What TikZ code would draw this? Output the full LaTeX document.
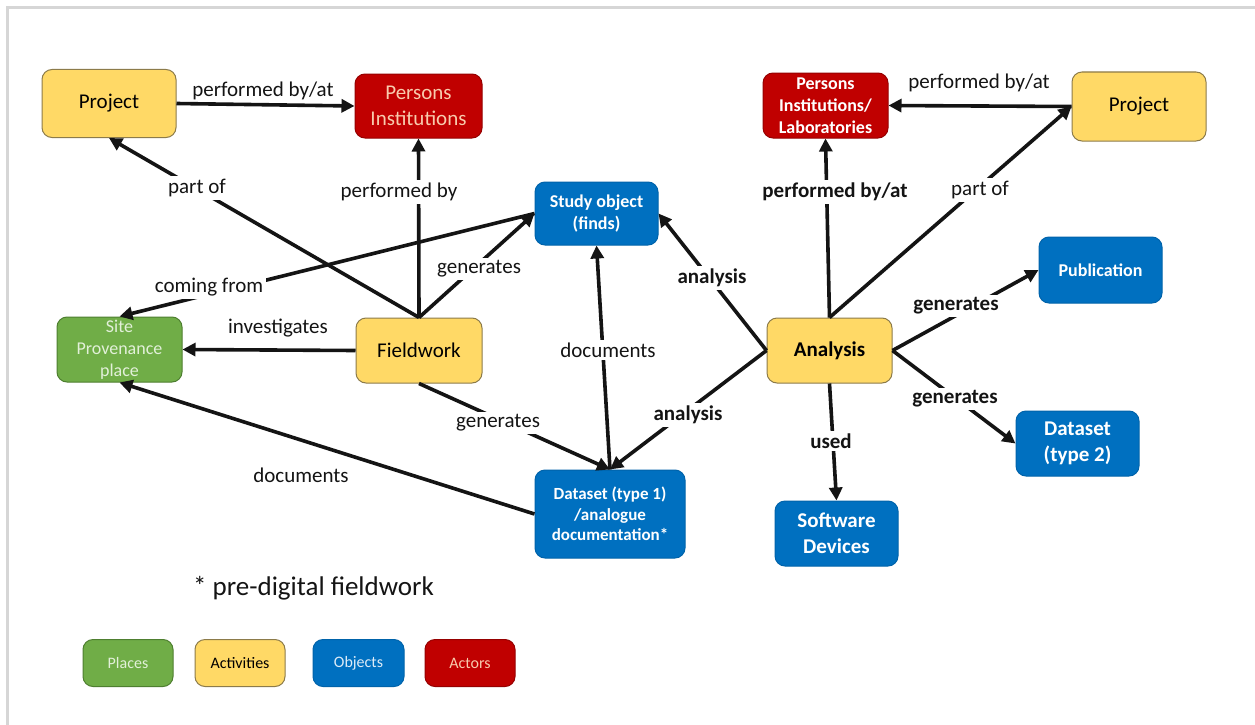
\documentclass[tikz,border=0pt]{standalone}
\usepackage{fontspec}
\setmainfont{Carlito}
\usetikzlibrary{arrows.meta}
\definecolor{yel}{HTML}{FFD966}
\definecolor{yelb}{HTML}{8C7B4A}
\definecolor{redf}{HTML}{C00000}
\definecolor{redb}{HTML}{960000}
\definecolor{redt}{HTML}{F8CBAD}
\definecolor{grnf}{HTML}{70AD47}
\definecolor{grnb}{HTML}{4E7F30}
\definecolor{grnt}{HTML}{E2F0D9}
\definecolor{bluf}{HTML}{0070C0}
\definecolor{blub}{HTML}{0063AA}
\definecolor{blut}{HTML}{DDEBF7}
\definecolor{framec}{HTML}{D6D6D6}
\definecolor{ink}{HTML}{141414}
\newcommand\fbig{\fontsize{21}{26}\selectfont}
\newcommand\fsmall{\fontsize{18}{22}\selectfont}
\newcommand\fleg{\fontsize{16}{19}\selectfont}
\tikzset{
 box/.style={rounded corners=10pt, draw, line width=1pt, align=center, inner sep=0pt},
 act/.style={box, fill=yel, draw=yelb, text=black},
 actor/.style={box, fill=redf, draw=redb},
 place/.style={box, fill=grnf, draw=grnb, text=grnt},
 obj/.style={box, fill=bluf, draw=blub, text=white},
 arr/.style={line width=3.6pt, draw=ink, -{Triangle[length=13pt,width=13pt]}},
 ln/.style={line width=3.6pt, draw=ink},
 lab/.style={fill=white, inner sep=3pt, font=\fbig, text=ink},
 tlab/.style={inner sep=1pt, font=\fbig, text=ink},
 blab/.style={fill=white, inner sep=3pt, font=\fbig\bfseries, text=ink},
}
\begin{document}
\begin{tikzpicture}[x=1pt,y=-1pt]
\useasboundingbox (0,0) rectangle (1255,725);
\fill[white] (0,0) rectangle (1255,725);
\draw[framec, line width=3pt] (7.5,725) -- (7.5,7.5) -- (1255,7.5);

% nodes
\node[act, minimum width=134pt, minimum height=68pt, font=\fbig] (projL) at (109,103.5) {Project};
\node[actor, minimum width=127pt, minimum height=64pt, font=\fbig, text=redt] (persL) at (418.5,106) {Persons\\Institutions};
\node[obj, minimum width=123pt, minimum height=63pt, font=\fsmall\bfseries] (study) at (596.5,213.5) {Study object\\(finds)};
\node[place, minimum width=125pt, minimum height=65pt, font=\fsmall] (site) at (119.5,349.5) {Site\\Provenance\\place};
\node[act, minimum width=126pt, minimum height=65pt, font=\fbig] (field) at (419,350.5) {Fieldwork};
\node[obj, minimum width=150pt, minimum height=88pt, font=\fontsize{17}{20.5}\selectfont\bfseries] (data1) at (610,514) {Dataset (type 1)\\/analogue\\documentation*};
\node[actor, minimum width=125pt, minimum height=65pt, font=\fsmall\bfseries, text=white] (persR) at (825.5,105.5) {Persons\\Institutions/\\Laboratories};
\node[act, minimum width=134pt, minimum height=69pt, font=\fbig] (projR) at (1139,106.5) {Project};
\node[obj, minimum width=123pt, minimum height=66pt, font=\fsmall\bfseries] (pub) at (1100.5,270) {Publication};
\node[act, minimum width=125pt, minimum height=65pt, font=\fbig\bfseries] (anal) at (829.5,350.5) {Analysis};
\node[obj, minimum width=123pt, minimum height=65pt, font=\fbig\bfseries] (data2) at (1077.5,443.5) {Dataset\\(type 2)};
\node[obj, minimum width=123pt, minimum height=65pt, font=\fbig\bfseries] (soft) at (836.5,533.5) {Software\\Devices};

% connectors
\draw[arr] (projL.east) -- (persL.west);
\draw[arr] (field.north) -- (projL.south);
\draw[arr] (field.north) -- (persL.south);
\draw[arr] (study.west) -- (site.north);
\draw[arr] (field.north) -- (study.west);
\draw[arr] (field.west) -- (site.east);
\draw[arr] (field.south) -- (data1.north);
\draw[arr] (data1.west) -- (site.south);
\draw[arr] (data1.north) -- (study.south);
\draw[arr] (anal.west) -- (study.east);
\draw[arr] (anal.west) -- (data1.north);
\draw[arr] (anal.north) -- (persR.south);
\draw[arr] (anal.north) -- (projR.west);
\draw[arr] (projR.west) -- (persR.east);
\draw[arr] (anal.east) -- (pub.west);
\draw[arr] (anal.east) -- (data2.west);
\draw[arr] (anal.south) -- (soft.north);

% labels
\node[tlab] (l1) at (263,91) {performed by/at};
\node[lab] (l2) at (197,188) {part of};
\node[lab] (l3) at (399,192) {performed by};
\node[lab] (l4) at (209,287) {coming from};
\node[lab] (l5) at (479,269) {generates};
\node[tlab] (l6) at (278,328) {investigates};
\node[lab] (l7) at (498,423) {generates};
\node[tlab] (l8) at (301,475) {documents};
\node[lab] (l9) at (608,350) {documents};
\node[blab] (l10) at (712,278) {analysis};
\node[blab] (l11) at (688,415) {analysis};
\node[blab] (l12) at (835,192) {performed by/at};
\node[lab] (l13) at (980,190) {part of};
\node[tlab] (l14) at (979,83) {performed by/at};
\node[blab] (l15) at (956,306) {generates};
\node[blab] (l16) at (955,399) {generates};
\node[blab] (l17) at (831,441) {used};

% footnote
\node[inner sep=0pt, font=\fontsize{27}{32}\selectfont, text=ink] (note) at (313.5,588) {* pre-digital fieldwork};

% legend
\node[place, minimum width=90pt, minimum height=47pt, font=\fleg] (lg1) at (128,663) {Places};
\node[act, minimum width=90pt, minimum height=47pt, font=\fleg] (lg2) at (240,663) {Activities};
\node[obj, minimum width=91pt, minimum height=47pt, font=\fleg, text=blut] (lg3) at (358.5,663) {Objects};
\node[actor, minimum width=90pt, minimum height=47pt, font=\fleg, text=redt] (lg4) at (470,663) {Actors};
\end{tikzpicture}
\end{document}
